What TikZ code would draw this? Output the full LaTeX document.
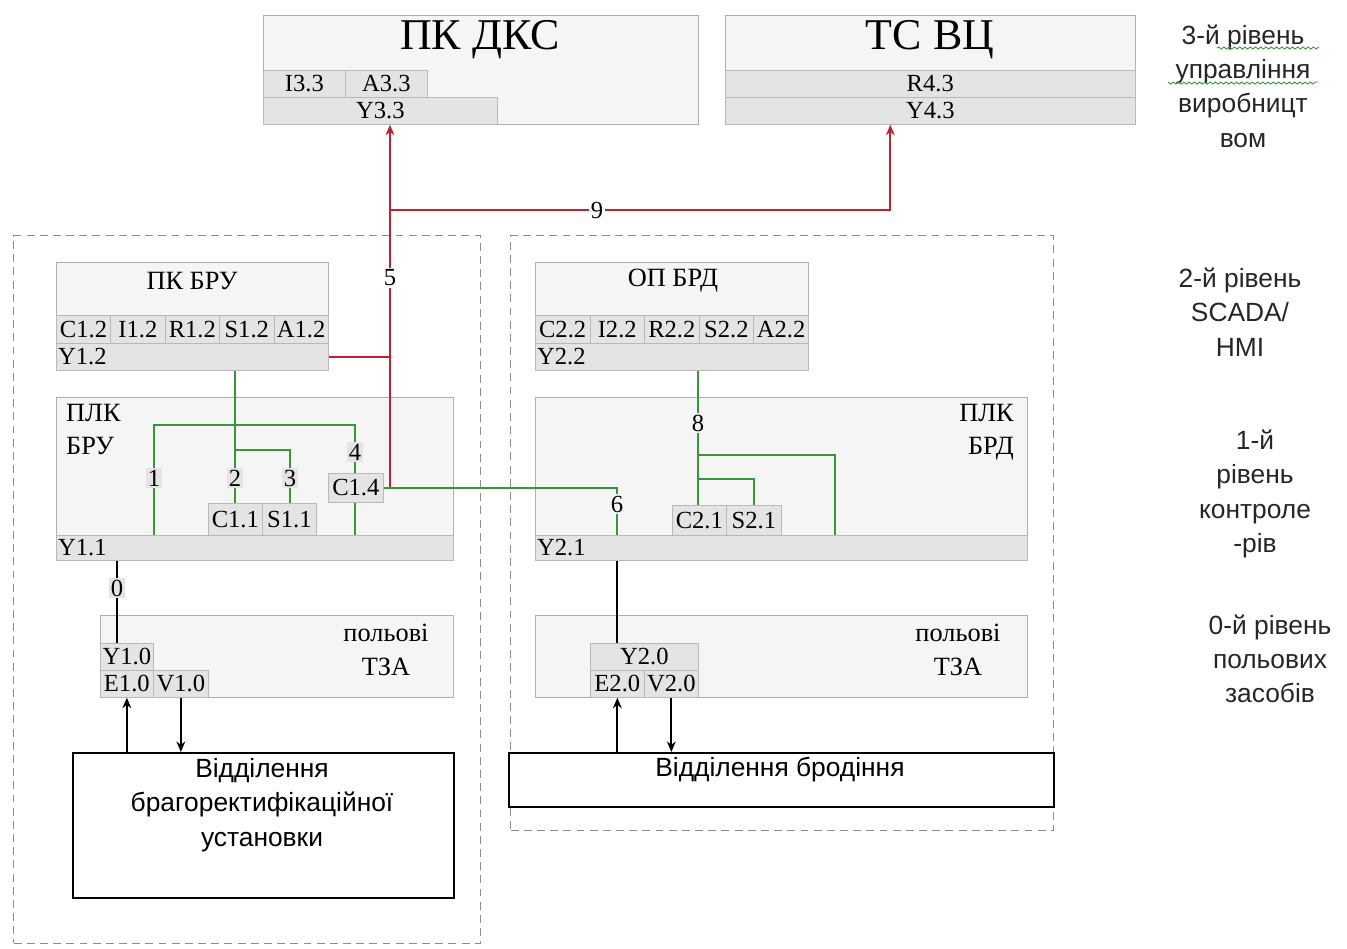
\documentclass[tikz,border=0pt]{standalone}
\usepackage{fontspec}
\setmainfont{Liberation Serif}
\newfontfamily\arialf{Liberation Sans}
\usetikzlibrary{arrows.meta,positioning,decorations.pathmorphing}
\definecolor{panelfill}{RGB}{245,245,245}
\definecolor{paneldraw}{RGB}{175,175,175}
\definecolor{cellfill}{RGB}{228,228,228}
\definecolor{celldraw}{RGB}{185,185,185}
\definecolor{netred}{RGB}{192,32,48}
\definecolor{netgreen}{RGB}{56,150,56}
\tikzset{
  panel/.style={draw=paneldraw,fill=panelfill,anchor=north west,inner sep=0pt,line width=0.5pt},
  cell/.style={draw=celldraw,fill=cellfill,anchor=north west,inner sep=1pt,line width=0.4pt,font=\fontsize{14}{14}\selectfont},
  lcell/.style={cell,text width=#1,align=left},
  group/.style={draw=black!45,dash pattern=on 4.5pt off 3pt,line width=0.7pt,anchor=north west,inner sep=0pt},
  plant/.style={draw,line width=1.1pt,fill=white,anchor=north west,inner sep=0pt},
  title/.style={font=\fontsize{15}{19}\selectfont,align=center},
  bigtitle/.style={font=\fontsize{25}{25}\selectfont},
  tag/.style={font=\fontsize{14}{14}\selectfont,inner sep=1pt},
  level/.style={font=\arialf\fontsize{15}{19.5}\selectfont,align=center,text=black!85},
  redline/.style={draw=netred,line width=1.1pt},
  greenline/.style={draw=netgreen,line width=1.1pt},
  blackline/.style={draw=black,line width=1.1pt}
}

\begin{document}
\begin{tikzpicture}[x=0.02cm,y=-0.02cm,>={Stealth[length=6pt,width=5pt]}]
  \useasboundingbox (0,0) rectangle (1347,948);

  \node[group,minimum width=9.34cm,minimum height=14.16cm] (grpbru) at (13,235) {};
  \node[group,minimum width=10.86cm,minimum height=11.9cm] (grpbrd) at (510,235) {};

  \node[panel,minimum width=8.7cm,minimum height=2.18cm] (pkdks) at (263,15) {};
  \node[bigtitle] (pkdksT) at (480,40) {ПК ДКС};
  \node[cell,minimum width=1.64cm,minimum height=0.54cm] (i33) at (263,70) {I3.3};
  \node[cell,minimum width=1.64cm,minimum height=0.54cm] (a33) at (345,70) {A3.3};
  \node[cell,minimum width=4.68cm,minimum height=0.54cm] (y33) at (263,97) {Y3.3};

  \node[panel,minimum width=8.2cm,minimum height=2.18cm] (tsvc) at (725,15) {};
  \node[bigtitle] (tsvcT) at (930,40) {ТС ВЦ};
  \node[cell,minimum width=8.2cm,minimum height=0.54cm] (r43) at (725,70) {R4.3};
  \node[cell,minimum width=8.2cm,minimum height=0.54cm] (y43) at (725,97) {Y4.3};

  \node[panel,minimum width=5.44cm,minimum height=2.16cm] (pkbru) at (56,262) {};
  \node[title] (pkbruT) at (192,281) {ПК БРУ};
  \node[cell,minimum width=1.088cm,minimum height=0.56cm] (c12) at (56,315) {C1.2};
  \node[cell,minimum width=1.088cm,minimum height=0.56cm] (i12) at (110.4,315) {I1.2};
  \node[cell,minimum width=1.088cm,minimum height=0.56cm] (r12) at (164.8,315) {R1.2};
  \node[cell,minimum width=1.088cm,minimum height=0.56cm] (s12) at (219.2,315) {S1.2};
  \node[cell,minimum width=1.088cm,minimum height=0.56cm] (a12) at (273.6,315) {A1.2};
  \node[lcell=5.37cm,minimum height=0.54cm] (y12) at (56,343) {Y1.2};

  \node[panel,minimum width=5.46cm,minimum height=2.16cm] (opbrd) at (535,262) {};
  \node[title] (opbrdT) at (673,281) {ОП БРД};
  \node[cell,minimum width=1.092cm,minimum height=0.56cm] (c22) at (535,315) {C2.2};
  \node[cell,minimum width=1.092cm,minimum height=0.56cm] (i22) at (589.6,315) {I2.2};
  \node[cell,minimum width=1.092cm,minimum height=0.56cm] (r22) at (644.2,315) {R2.2};
  \node[cell,minimum width=1.092cm,minimum height=0.56cm] (s22) at (698.8,315) {S2.2};
  \node[cell,minimum width=1.092cm,minimum height=0.56cm] (a22) at (753.4,315) {A2.2};
  \node[lcell=5.39cm,minimum height=0.54cm] (y22) at (535,343) {Y2.2};

  \node[panel,minimum width=7.94cm,minimum height=3.26cm] (plcbru) at (56,397) {};
  \node[title,align=left,anchor=north west] (plcbruT) at (60,398) {ПЛК\\БРУ};
  \node[lcell=7.87cm,minimum height=0.5cm] (y11) at (56,535) {Y1.1};
  \node[cell,minimum width=1.08cm,minimum height=0.64cm] (c11) at (208,503) {C1.1};
  \node[cell,minimum width=1.08cm,minimum height=0.64cm] (s11) at (262,503) {S1.1};
  \node[cell,minimum width=1.1cm,minimum height=0.58cm] (c14) at (328,473) {C1.4};

  \node[panel,minimum width=9.84cm,minimum height=3.26cm] (plcbrd) at (535,397) {};
  \node[title,align=right,anchor=north east] (plcbrdT) at (1020,398) {ПЛК\\БРД};
  \node[lcell=9.77cm,minimum height=0.5cm] (y21) at (535,535) {Y2.1};
  \node[cell,minimum width=1.08cm,minimum height=0.6cm] (c21) at (672,505) {C2.1};
  \node[cell,minimum width=1.1cm,minimum height=0.6cm] (s21) at (726,505) {S2.1};

  \node[panel,minimum width=7.06cm,minimum height=1.64cm] (fldbru) at (100,615) {};
  \node[title] (fldbruT) at (386,650) {польові\\ТЗА};
  \node[cell,minimum width=1.06cm,minimum height=0.54cm] (y10) at (100,643) {Y1.0};
  \node[cell,minimum width=1.06cm,minimum height=0.54cm] (e10) at (100,670) {E1.0};
  \node[cell,minimum width=1.1cm,minimum height=0.54cm] (v10) at (153,670) {V1.0};

  \node[panel,minimum width=9.84cm,minimum height=1.64cm] (fldbrd) at (535,615) {};
  \node[title] (fldbrdT) at (958,650) {польові\\ТЗА};
  \node[cell,minimum width=2.16cm,minimum height=0.54cm] (y20) at (590,643) {Y2.0};
  \node[cell,minimum width=1.08cm,minimum height=0.54cm] (e20) at (590,670) {E2.0};
  \node[cell,minimum width=1.08cm,minimum height=0.54cm] (v20) at (644,670) {V2.0};

  \node[plant,minimum width=7.62cm,minimum height=2.9cm] (plantbru) at (72,752) {};
  \node[level,text=black] (plantbruT) at (262,805) {Відділення\\брагоректифікаційної\\установки};
  \node[plant,minimum width=10.9cm,minimum height=1.08cm] (plantbrd) at (508,752) {};
  \node[level,text=black] (plantbrdT) at (780,770) {Відділення бродіння};

  \node[level] (lev3) at (1243,86) {3-й рівень\\управління\\виробницт\\вом};
  \node[level] (lev2) at (1240,312) {2-й рівень\\SCADA/\\HMI};
  \node[level] (lev1) at (1255,494) {1-й\\рівень\\контроле\\-рів};
  \node[level] (lev0) at (1270,659) {0-й рівень\\польових\\засобів};
  \draw[netgreen,line width=0.5pt,decorate,decoration={snake,amplitude=0.6pt,segment length=3pt}]
    (1217,48) -- (1318,48) (1168,82) -- (1318,82);

  \node[tag,fill=white] (n5) at (390,278) {5};
  \node[tag,fill=white] (n9) at (597,210) {9};
  \coordinate (j9) at (390,210);
  \draw[redline,->] (n5) -- (y33.south -| n5);
  \draw[redline] (n5) -- (c14.east -| n5);
  \draw[redline] (y12.east) -- (y12.east -| n5);
  \draw[redline] (j9) -- (n9);
  \draw[redline,->] (n9) -| ([xshift=-0.8cm]y43.south);

  \node[tag,fill=cellfill] (n1) at (154,478) {1};
  \node[tag,fill=cellfill] (n2) at (235,478) {2};
  \node[tag,fill=cellfill] (n3) at (290,478) {3};
  \node[tag,fill=cellfill] (n4) at (355,452) {4};
  \coordinate (j3) at (235,450);
  \coordinate (j14) at (154,425);
  \draw[greenline] (y12.south -| n2) -- (n2) -- (c11.north -| n2);
  \draw[greenline] (j3) -| (n3) -- (s11.north -| n3);
  \draw[greenline] (y11.north -| n1) -- (n1) -- (j14) -| (n4) -- (c14.north -| n4);
  \draw[greenline] (c14.south -| n4) -- (y11.north -| n4);

  \node[tag,fill=panelfill] (n6) at (617,504) {6};
  \node[tag,fill=panelfill] (n8) at (698,423) {8};
  \coordinate (j8a) at (698,455);
  \coordinate (k8) at (835,455);
  \coordinate (j8b) at (698,479);
  \draw[greenline] (c14.east) -| (n6) -- (y21.north -| n6);
  \draw[greenline] (y22.south -| n8) -- (n8) -- (c21.north -| n8);
  \draw[greenline] (j8a) -- (k8) -- (y21.north -| k8);
  \draw[greenline] (j8b) -| (s21.north);

  \node[tag,fill=cellfill] (n0) at (117,588) {0};
  \draw[blackline] (y11.south -| n0) -- (n0) -- (y10.north -| n0);
  \draw[blackline] (y21.south -| n6) -- (y20.north -| n6);
  \draw[blackline,->] (e10.south |- plantbru.north) -- (e10.south);
  \draw[blackline,->] (v10.south) -- (v10.south |- plantbru.north);
  \draw[blackline,->] (e20.south |- plantbrd.north) -- (e20.south);
  \draw[blackline,->] (v20.south) -- (v20.south |- plantbrd.north);
\end{tikzpicture}
\end{document}
